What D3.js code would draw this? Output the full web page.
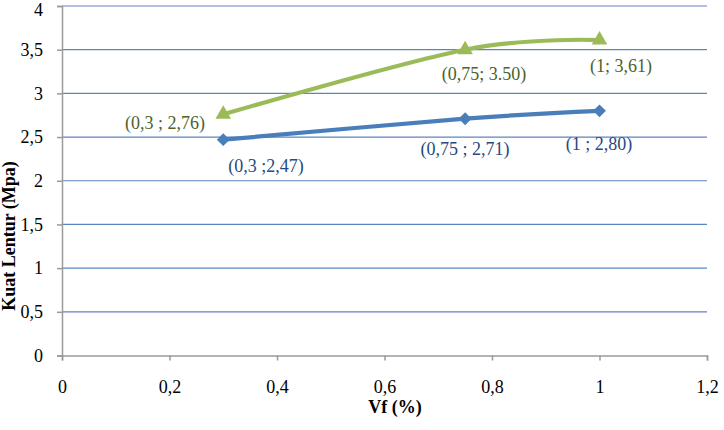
<!DOCTYPE html>
<html><head><meta charset="utf-8">
<script src="https://cdn.jsdelivr.net/npm/d3@7"></script>
<style>body{margin:0;background:#fff}svg{display:block}</style>
</head><body><svg id="c" width="724" height="430"></svg>
<script>
const xValues = [0.3, 0.75, 1];
const seriesBlue = [2.47, 2.71, 2.80];
const seriesGreen = [2.76, 3.50, 3.61];
const labelsBlue = ["(0,3 ;2,47)", "(0,75 ; 2,71)", "(1 ; 2,80)"];
const labelsGreen = ["(0,3 ; 2,76)", "(0,75; 3.50)", "(1; 3,61)"];
const xTicks = [0, 0.2, 0.4, 0.6, 0.8, 1, 1.2];
const yTicks = [0, 0.5, 1, 1.5, 2, 2.5, 3, 3.5, 4];
const fmt = v => String(v).replace(".", ",");
const FONT = '"Liberation Serif","Times New Roman",serif';

const svg = d3.select("#c");
const x = d3.scaleLinear().domain([0, 1.2]).range([62, 707]);
const y = d3.scaleLinear().domain([0, 4]).range([355.5, 6]);

// gridlines
svg.append("g").selectAll("line").data(yTicks.filter(d => d > 0)).join("line")
  .attr("x1", x(0)).attr("x2", x(1.2)).attr("y1", d => y(d)).attr("y2", d => y(d))
  .attr("stroke", "#5a86bf").attr("stroke-width", 1.2);

// y axis
const ya = svg.append("g").attr("transform", `translate(${x(0)},0)`)
  .call(d3.axisLeft(y).tickValues(yTicks).tickFormat(fmt).tickSize(5).tickPadding(14));
// x axis
const xa = svg.append("g").attr("transform", `translate(0,${y(0)})`)
  .call(d3.axisBottom(x).tickValues(xTicks).tickFormat(fmt).tickSize(5));
[ya, xa].forEach(a => {
  a.attr("font-family", FONT);
  a.select(".domain").attr("stroke", "#9a9a9a").attr("stroke-width", 1.5);
  a.selectAll(".tick line").attr("stroke", "#9a9a9a").attr("stroke-width", 1.5);
  a.selectAll(".tick text").attr("font-size", 18).attr("fill", "#000");
});
ya.selectAll(".tick text").attr("dy", d => d === 4 ? "0.5em" : "0.32em");
xa.selectAll(".tick text").attr("y", 37).attr("dy", 0);

// axis titles
svg.append("text").attr("x", 395).attr("y", 413).attr("text-anchor", "middle")
  .attr("font-family", FONT).attr("font-size", 18).attr("font-weight", "bold").text("Vf (%)");
svg.append("text").attr("transform", `translate(15,236) rotate(-90)`).attr("text-anchor", "middle")
  .attr("font-family", FONT).attr("font-size", 18).attr("font-weight", "bold").text("Kuat Lentur (Mpa)");

const line = d3.line().x(d => x(d[0])).y(d => y(d[1])).curve(d3.curveCatmullRom.alpha(0));
const blue = xValues.map((v, i) => [v, seriesBlue[i]]);
const green = xValues.map((v, i) => [v, seriesGreen[i]]);

svg.append("path").datum(blue).attr("d", line).attr("fill", "none")
  .attr("stroke", "#4a7ebb").attr("stroke-width", 4.2);
svg.append("path").datum(green).attr("d", line).attr("fill", "none")
  .attr("stroke", "#9bbb59").attr("stroke-width", 4.2);

svg.append("g").selectAll("path").data(blue).join("path")
  .attr("transform", d => `translate(${x(d[0])},${y(d[1])})`)
  .attr("d", d3.symbol(d3.symbolDiamond2, 105)).attr("fill", "#4a7ebb");
svg.append("g").selectAll("path").data(green).join("path")
  .attr("transform", d => `translate(${x(d[0])},${y(d[1])})`)
  .attr("d", d3.symbol(d3.symbolTriangle, 105)).attr("fill", "#9bbb59");

// data labels
const blueLabelPos = [[266, 172], [465, 155], [599, 150]];
const greenLabelPos = [[165, 129], [484, 80], [621, 72]];
svg.append("g").selectAll("text").data(labelsBlue).join("text")
  .attr("x", (d, i) => blueLabelPos[i][0]).attr("y", (d, i) => blueLabelPos[i][1])
  .attr("text-anchor", "middle").attr("font-family", FONT).attr("font-size", 18).attr("fill", "#284a7e").text(d => d);
svg.append("g").selectAll("text").data(labelsGreen).join("text")
  .attr("x", (d, i) => greenLabelPos[i][0]).attr("y", (d, i) => greenLabelPos[i][1])
  .attr("text-anchor", "middle").attr("font-family", FONT).attr("font-size", 18).attr("fill", "#4f6228").text(d => d);
</script></body></html>
